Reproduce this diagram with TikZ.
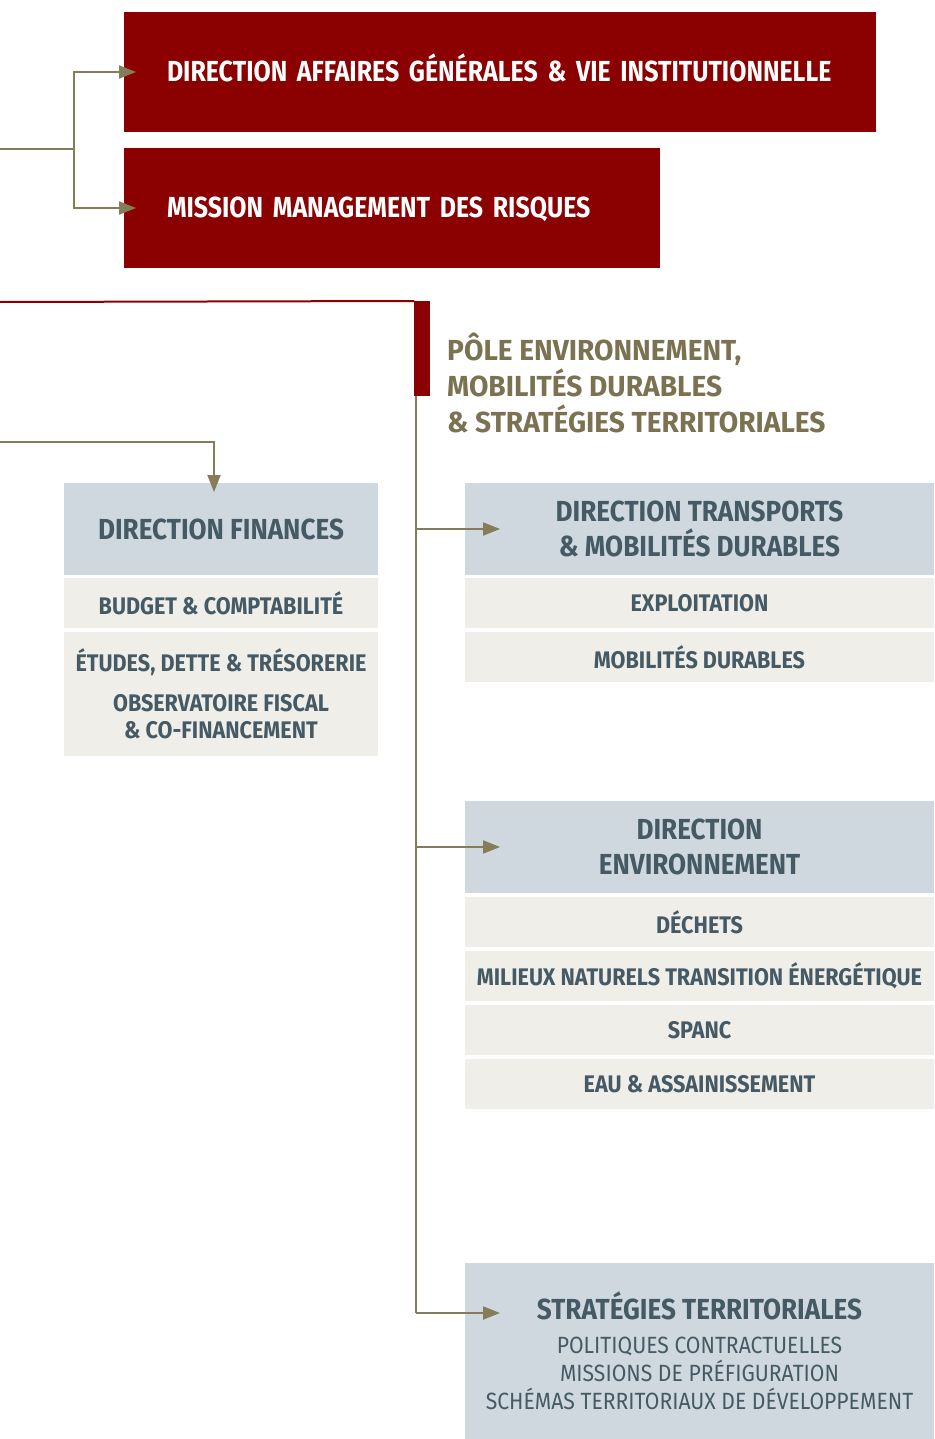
\documentclass[tikz,border=0pt]{standalone}
\usepackage{fontspec}
\newfontfamily\cond{Fira Sans}[FakeStretch=0.90]
\newfontfamily\condpole{Fira Sans}[FakeStretch=0.97]
\newfontfamily\condrouge{Fira Sans}[FakeStretch=0.86, WordSpace=0.6]
\usetikzlibrary{positioning, arrows.meta}
\definecolor{rougedir}{HTML}{8B0000}
\definecolor{trait}{HTML}{857D5A}
\definecolor{titrepole}{HTML}{7B7252}
\definecolor{gristitre}{HTML}{CFD8DE}
\definecolor{beige}{HTML}{EFEEE9}
\definecolor{ardoise}{HTML}{455A64}
\tikzset{
  redbox/.style={fill=rougedir, text=white, font=\condrouge\bfseries\fontsize{29}{34}\selectfont, anchor=north west, minimum height=120pt, inner xsep=43pt, inner ysep=0pt, text height=21pt, text depth=1pt, align=left, outer sep=0pt},
  headbox/.style={fill=gristitre, text=ardoise, font=\cond\bfseries\fontsize{29}{35}\selectfont, minimum height=92pt, align=center, outer sep=0pt, inner sep=0pt},
  subbox/.style={fill=beige, text=ardoise, font=\cond\bfseries\fontsize{24}{27}\selectfont, minimum height=50pt, align=center, outer sep=0pt, inner sep=0pt},
  conn/.style={draw=trait, line width=2pt, -{Triangle[length=17pt,width=13pt]}},
}
\begin{document}
\begin{tikzpicture}[x=1pt, y=-1pt]
    \useasboundingbox (0,0) rectangle (934,1439);
    % directions rattachées
    \node (dag) [redbox, minimum width=752pt, text width=666pt] at (124,12) {\mbox{DIRECTION AFFAIRES GÉNÉRALES \& VIE INSTITUTIONNELLE}};
    \node (mmr) [redbox, minimum width=536pt, text width=450pt] at (124,148) {\mbox{MISSION MANAGEMENT DES RISQUES}};
    \coordinate (in1) at (0,149);
    \coordinate (fork1) at (74,149);
    \draw [conn] (in1) -- (fork1) |- ([xshift=12pt]dag.west);
    \draw [conn] (fork1) |- ([xshift=12pt]mmr.west);

    % pôle
    \coordinate (in3) at (0,302);
    \node (polebar) [fill=rougedir, minimum width=16pt, minimum height=95pt, inner sep=0pt, outer sep=0pt, anchor=north west] at (414,301) {};
    \draw [rougedir, line width=2pt] (in3) -- (polebar.north west);
    \node (pole) [text=titrepole, font=\condpole\bfseries\fontsize{29}{36}\selectfont, align=left, anchor=north west, inner sep=0pt] at (447,333) {PÔLE ENVIRONNEMENT,\\ MOBILITÉS DURABLES\\ \& STRATÉGIES TERRITORIALES};

    % finances
    \node (fin) [headbox, minimum width=314pt, anchor=north west] at (64,483) {DIRECTION FINANCES};
    \node (budget) [subbox, minimum width=314pt, below=3pt of fin] {BUDGET \& COMPTABILITÉ};
    \node (etudes) [subbox, minimum width=314pt, minimum height=124pt, below=4pt of budget] {ÉTUDES, DETTE \& TRÉSORERIE\\[13pt] OBSERVATOIRE FISCAL\\ \& CO-FINANCEMENT};
    \coordinate (in2) at (0,442);
    \draw [conn] (in2) -| ([xshift=-7pt,yshift=-9pt]fin.north);

    % transports
    \node (trans) [headbox, minimum width=469pt, anchor=north west] at (465,483) {DIRECTION TRANSPORTS\\ \& MOBILITÉS DURABLES};
    \node (exploit) [subbox, minimum width=469pt, below=3pt of trans] {EXPLOITATION};
    \node (mobil) [subbox, minimum width=469pt, below=4pt of exploit] {MOBILITÉS DURABLES};

    % environnement
    \node (env) [headbox, minimum width=469pt, anchor=north west] at (465,801) {DIRECTION\\ ENVIRONNEMENT};
    \node (dechets) [subbox, minimum width=469pt, below=4pt of env] {DÉCHETS};
    \node (milieux) [subbox, minimum width=469pt, below=4pt of dechets] {MILIEUX NATURELS TRANSITION ÉNERGÉTIQUE};
    \node (spanc) [subbox, minimum width=469pt, below=4pt of milieux] {SPANC};
    \node (eau) [subbox, minimum width=469pt, below=4pt of spanc] {EAU \& ASSAINISSEMENT};

    % stratégies
    \node (strat) [headbox, minimum width=469pt, minimum height=176pt, anchor=north west, font=\cond\fontsize{23.5}{28}\selectfont] at (465,1263) {{\bfseries\fontsize{29}{35}\selectfont STRATÉGIES TERRITORIALES}\\[6pt] POLITIQUES CONTRACTUELLES\\ MISSIONS DE PRÉFIGURATION\\ SCHÉMAS TERRITORIAUX DE DÉVELOPPEMENT};

    % tronc du pôle
    \coordinate (trunktop) at ([xshift=2pt]polebar.south west);
    \coordinate (trunkend) at (trunktop |- 0,1313);
    \draw [trait, line width=2pt] (trunktop) -- (trunkend);
    \draw [conn] (trunktop |- trans.west) -- ([xshift=35pt]trans.west);
    \draw [conn] (trunktop |- env.west) -- ([xshift=35pt]env.west);
    \draw [conn] (trunkend) -- ([xshift=35pt]strat.west |- trunkend);
\end{tikzpicture}
\end{document}
